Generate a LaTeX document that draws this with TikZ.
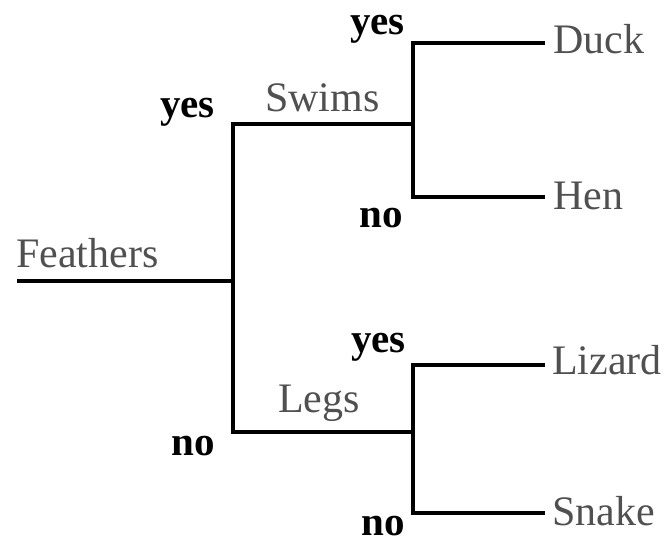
\documentclass[tikz,border=0pt]{standalone}
\usepackage{fontspec}
\setmainfont{Liberation Serif}
\definecolor{labelgray}{RGB}{80,80,80}
\begin{document}
\begin{tikzpicture}[x=1pt,y=-1pt,
  branch/.style={line width=4.5pt,black,line cap=butt,line join=miter},
  attr/.style={inner sep=0pt,anchor=base west,text=labelgray,font=\fontsize{42}{48}\selectfont},
  leaf/.style={attr},
  answer/.style={inner sep=0pt,anchor=base east,text=black,font=\fontsize{41}{48}\selectfont\bfseries}]
\useasboundingbox (0,0) rectangle (667,545);

% branching points
\coordinate (root) at (17,281);
\coordinate (split) at (233,281);
\coordinate (yesTop) at (233,124);
\coordinate (noBot) at (233,432);
\coordinate (swimsJ) at (413,124);
\coordinate (legsJ) at (413,432);
\coordinate (duckC) at (413,43);
\coordinate (henC) at (413,197);
\coordinate (lizC) at (413,365);
\coordinate (snakeC) at (413,513);
\coordinate (duckE) at (545,43);
\coordinate (henE) at (545,197);
\coordinate (lizE) at (545,365);
\coordinate (snakeE) at (545,513);

% tree lines
\draw[branch] (root) -- (split);
\draw[branch] (swimsJ) -- (yesTop) -- (noBot) -- (legsJ);
\draw[branch] (duckE) -- (duckC) -- (henC) -- (henE);
\draw[branch] (lizE) -- (lizC) -- (snakeC) -- (snakeE);

% attribute and leaf labels
\node[attr] (feathers) at (16,268) {Feathers};
\node[attr] (swims) at (265,112) {Swims};
\node[attr] (legs) at (278,413) {Legs};
\node[leaf] (duck) at (553,54) {Duck};
\node[leaf] (hen) at (553,210) {Hen};
\node[leaf] (lizard) at (552,375) {Lizard};
\node[leaf] (snake) at (552,525) {Snake};

% answers
\node[answer] (yes1) at (405,35) {yes};
\node[answer] (no1) at (403,228) {no};
\node[answer] (yes2) at (215,118) {yes};
\node[answer] (no2) at (215,455) {no};
\node[answer] (yes3) at (406,353) {yes};
\node[answer] (no3) at (405,535) {no};
\end{tikzpicture}
\end{document}
